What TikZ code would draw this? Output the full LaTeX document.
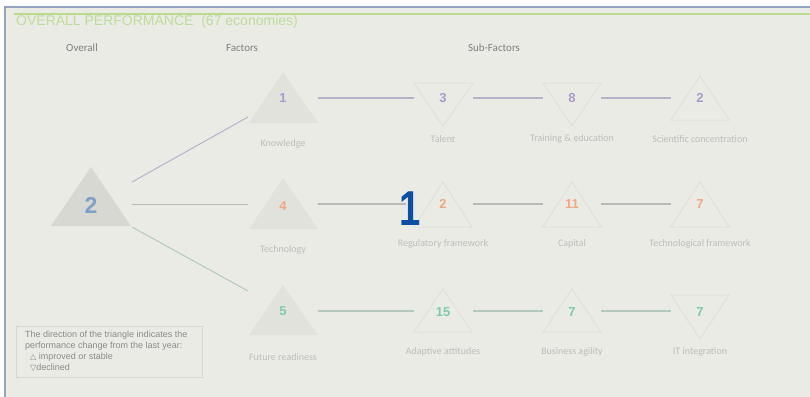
\documentclass[tikz,border=0pt]{standalone}
\usepackage{fontspec}
\setmainfont{Liberation Sans}
\newfontfamily\labfont{Carlito}
\newfontfamily\symfont{DejaVu Sans}
\definecolor{bg}{HTML}{EBEBE6}
\definecolor{framec}{HTML}{95A3BE}
\definecolor{greenl}{HTML}{BCD98F}
\definecolor{titlec}{HTML}{BEDC9A}
\definecolor{headc}{HTML}{7F7F7F}
\definecolor{labc}{HTML}{BDBDB9}
\definecolor{bigfill}{HTML}{D8D8D3}
\definecolor{facfill}{HTML}{E2E2DD}
\definecolor{subline}{HTML}{E1E1DC}
\definecolor{purp}{HTML}{A99BC9}
\definecolor{oran}{HTML}{F0A882}
\definecolor{gren}{HTML}{7FCBA4}
\definecolor{bluen}{HTML}{7F9FC8}
\definecolor{darkb}{HTML}{0B4EA2}
\definecolor{conp}{HTML}{B7B2C8}
\definecolor{cong}{HTML}{B9B9B5}
\definecolor{cont}{HTML}{B3C9BE}
\definecolor{legc}{HTML}{8A8A88}
\definecolor{legb}{HTML}{D6D6D2}
\tikzset{
  head/.style={font=\labfont\fontsize{11}{13}\selectfont, text=headc, inner sep=0pt},
  lab/.style={font=\labfont\fontsize{10}{12}\selectfont, text=labc, inner sep=0pt},
  num/.style={font=\bfseries\fontsize{13}{15}\selectfont, inner sep=0pt},
  facshape/.style={fill=facfill},
  subshape/.style={draw=subline, line width=1pt},
  conn/.style={line width=1.5pt},
}
\begin{document}
\begin{tikzpicture}[x=1pt,y=-1pt]
\useasboundingbox (0,0) rectangle (810,396);
\fill[white] (0,0) rectangle (810,396);
\draw[draw=framec, fill=bg, line width=1.6pt] (5,7) rectangle (816,402);
\draw[greenl, line width=1.6pt] (14,14) -- (813,14);
\node[anchor=west, inner sep=0pt, text=titlec, font=\fontsize{14}{16}\selectfont] (title) at (16,22) {OVERALL PERFORMANCE\ \ (67 economies)};

\node[head] (hov) at (82,48) {Overall};
\node[head] (hfa) at (242,48) {Factors};
\node[head] (hsf) at (494,48) {Sub-Factors};

% overall triangle
\fill[bigfill] (91,167) -- (131,226) -- (51,226) -- cycle;
\node[num, text=bluen, font=\bfseries\fontsize{23}{25}\selectfont] (ov) at (91,205) {2};

% factor triangles
\fill[facshape] (283,72) -- (318,123) -- (249,123) -- cycle;
\fill[facshape] (283,178) -- (318,229) -- (249,229) -- cycle;
\fill[facshape] (283,285) -- (318,335) -- (249,335) -- cycle;
\node[num, text=purp] (kn) at (283,98) {1};
\node[num, text=oran] (te) at (283,206) {4};
\node[num, text=gren] (fr) at (283,311) {5};
\node[lab] (lkn) at (283,144) {Knowledge};
\node[lab] (lte) at (283,250) {Technology};
\node[lab] (lfr) at (283,357) {Future readiness};

% sub-factor triangles row 1
\draw[subshape] (414,83) -- (473,83) -- (443,126) -- cycle;
\draw[subshape] (543,83) -- (601,83) -- (572,126) -- cycle;
\draw[subshape] (700,76) -- (729,120) -- (671,120) -- cycle;
\node[num, text=purp] (s11) at (443,98) {3};
\node[num, text=purp] (s12) at (572,98) {8};
\node[num, text=purp] (s13) at (700,98) {2};
\node[lab] (l11) at (443,139) {Talent};
\node[lab] (l12) at (572,139) {Training \& education};
\node[lab] (l13) at (700,139) {Scientific concentration};

% row 2
\draw[subshape] (443,182) -- (472,227) -- (414,227) -- cycle;
\draw[subshape] (572,182) -- (601,227) -- (543,227) -- cycle;
\draw[subshape] (700,182) -- (729,227) -- (671,227) -- cycle;
\node[num, text=oran] (s21) at (443,204) {2};
\node[num, text=oran] (s22) at (572,204) {11};
\node[num, text=oran] (s23) at (700,204) {7};
\node[lab] (l21) at (443,244) {Regulatory framework};
\node[lab] (l22) at (572,244) {Capital};
\node[lab] (l23) at (700,244) {Technological framework};

% row 3
\draw[subshape] (443,289) -- (472,332) -- (414,332) -- cycle;
\draw[subshape] (572,289) -- (601,332) -- (543,332) -- cycle;
\draw[subshape] (671,295) -- (729,295) -- (700,339) -- cycle;
\node[num, text=gren] (s31) at (443,312) {15};
\node[num, text=gren] (s32) at (572,312) {7};
\node[num, text=gren] (s33) at (700,312) {7};
\node[lab] (l31) at (443,352) {Adaptive attitudes};
\node[lab] (l32) at (572,352) {Business agility};
\node[lab] (l33) at (700,352) {IT integration};

% connector end points
\coordinate (ov-a) at (132,182);
\coordinate (ov-b) at (132,204);
\coordinate (ov-c) at (132,227);
\coordinate (kn-w) at (248,117);
\coordinate (te-w) at (248,204);
\coordinate (fr-w) at (248,291);
\coordinate (kn-e) at (318,98);
\coordinate (s11-w) at (414,98);
\coordinate (s11-e) at (473,98);
\coordinate (s12-w) at (543,98);
\coordinate (s12-e) at (601,98);
\coordinate (s13-w) at (671,98);
\coordinate (te-e) at (318,204);
\coordinate (s21-w) at (406,204);
\coordinate (s21-e) at (473,204);
\coordinate (s22-w) at (543,204);
\coordinate (s22-e) at (601,204);
\coordinate (s23-w) at (671,204);
\coordinate (fr-e) at (318,311);
\coordinate (s31-w) at (414,311);
\coordinate (s31-e) at (473,311);
\coordinate (s32-w) at (543,311);
\coordinate (s32-e) at (601,311);
\coordinate (s33-w) at (671,311);

\draw[conn, conp, line width=1pt] (ov-a) -- (kn-w);
\draw[conn, cong, line width=1pt] (ov-b) -- (te-w);
\draw[conn, cont, line width=1pt] (ov-c) -- (fr-w);
\draw[conn, conp] (kn-e) -- (s11-w);
\draw[conn, conp] (s11-e) -- (s12-w);
\draw[conn, conp] (s12-e) -- (s13-w);
\draw[conn, cong] (te-e) -- (s21-w);
\draw[conn, cong] (s21-e) -- (s22-w);
\draw[conn, cong] (s22-e) -- (s23-w);
\draw[conn, cont] (fr-e) -- (s31-w);
\draw[conn, cont] (s31-e) -- (s32-w);
\draw[conn, cont] (s32-e) -- (s33-w);

% big blue 1
\node[inner sep=0pt, text=darkb, xscale=0.78, font=\bfseries\fontsize{49}{51}\selectfont] (big1) at (410.5,208.5) {1};

% legend
\draw[legb, line width=1pt] (16,326) rectangle (202,377);
\node[anchor=north west, inner sep=0pt, text=legc, align=left, font=\fontsize{9}{11}\selectfont] (leg) at (25,331)
{The direction of the triangle indicates the\\performance change from the last year:\\
\ \ {\symfont\fontsize{8}{11}\selectfont △} improved or stable\\
\ \ {\symfont\fontsize{8}{11}\selectfont ▽}declined};
\end{tikzpicture}
\end{document}
